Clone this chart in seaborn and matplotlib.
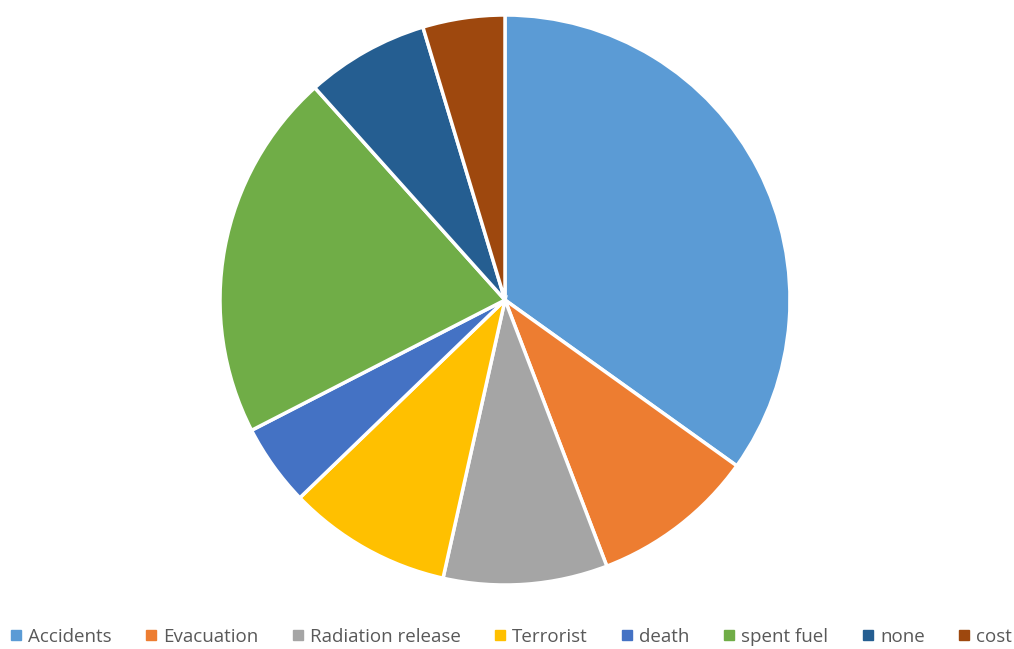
import matplotlib
matplotlib.use("Agg")
import matplotlib.pyplot as plt
import seaborn as sns
from matplotlib.lines import Line2D

categories = ["Accidents", "Evacuation", "Radiation release", "Terrorist",
              "death", "spent fuel", "none", "cost"]
values = [15, 4, 4, 4, 2, 9, 3, 2]
hex_colors = ["#5B9BD5", "#ED7D31", "#A5A5A5", "#FFC000",
              "#4472C4", "#70AD47", "#255E91", "#9E480E"]

sns.set_style("white")
plt.rcParams['font.family'] = ['Open Sans', 'DejaVu Sans']
colors = sns.color_palette(hex_colors)

fig = plt.figure(figsize=(10.14, 6.49), dpi=100)
ax = fig.add_axes([(505 - 285) / 1014, (349 - 285) / 649, 570 / 1014, 570 / 649])
ax.pie(values, colors=colors, startangle=90, counterclock=False, radius=1,
       wedgeprops=dict(edgecolor="white", linewidth=2.5))
ax.set_xlim(-1.0, 1.0)
ax.set_ylim(-1.0, 1.0)
ax.set_aspect("equal")
ax.axis("off")

handles = [Line2D([0], [0], marker="s", linestyle="none", markersize=7.5,
                  markerfacecolor=c, markeredgecolor=c) for c in colors]
leg = fig.legend(handles, categories, loc="center", bbox_to_anchor=(0.504, 12 / 649),
                 ncol=8, frameon=False, fontsize=13.5, handlelength=0.6,
                 handletextpad=0.35, columnspacing=1.8)
for t in leg.get_texts():
    t.set_color("#595959")

fig.savefig("out.png", dpi=100, facecolor="white")
